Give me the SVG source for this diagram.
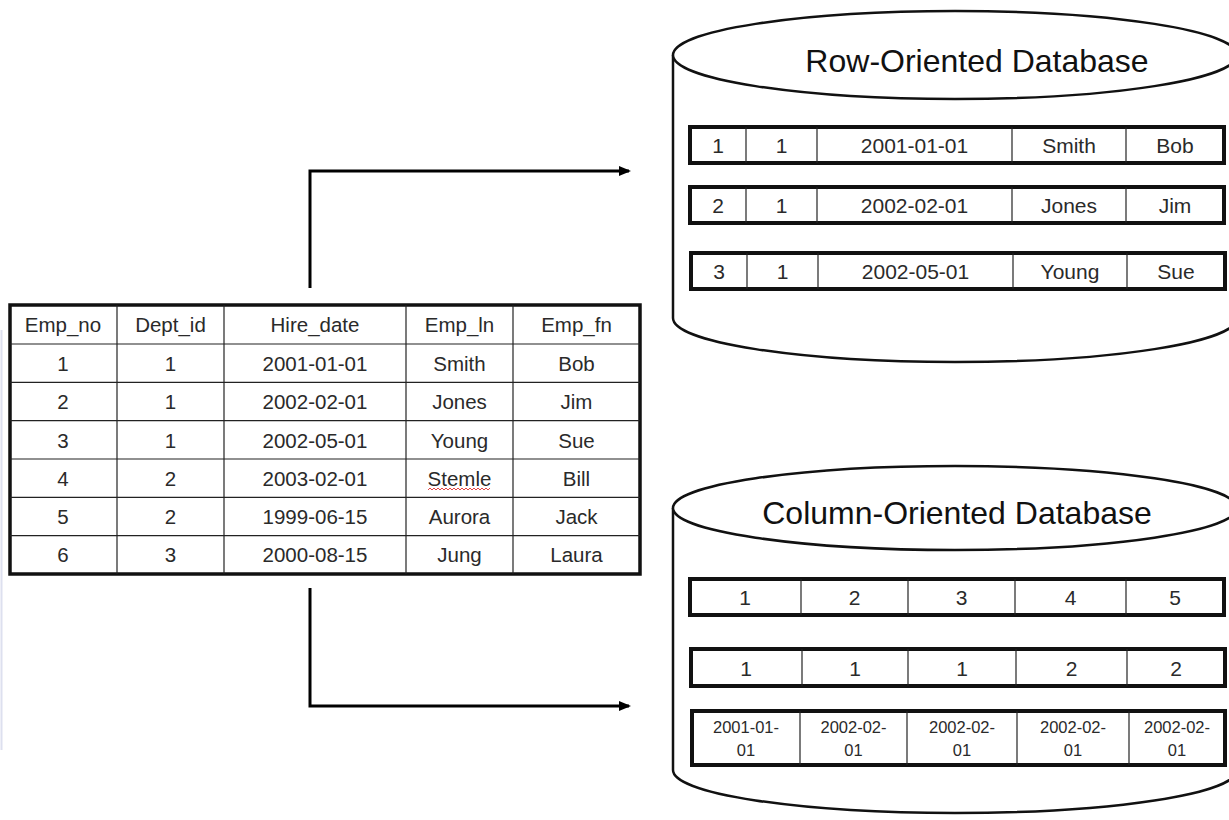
<svg xmlns="http://www.w3.org/2000/svg" width="1229" height="820" viewBox="0 0 1229 820">
<style>
text{font-family:"Liberation Sans",Arial,sans-serif;fill:#2a2a2a;text-anchor:middle}
.t{font-size:20.5px}
.d{font-size:21px}
.s{font-size:16.5px}
.h{font-size:32px;fill:#111}
.thin{stroke:#222;stroke-width:1.2;fill:none}
.box{fill:#fff;stroke:#111;stroke-width:4}
.cyl{fill:#fff;stroke:#111;stroke-width:2.5}
.conn{fill:none;stroke:#000;stroke-width:3}
</style>
<defs>
<marker id="ah" markerWidth="12" markerHeight="12" refX="10" refY="5" orient="auto" markerUnits="userSpaceOnUse">
<path d="M0,0 L12,5 L0,10 Z" fill="#000"/>
</marker>
</defs>
<rect width="1229" height="820" fill="#fff"/>
<line x1="1.5" y1="330" x2="1.5" y2="750" stroke="#dde0ef" stroke-width="2"/>

<g id="table">
<rect x="10" y="305" width="630" height="269" fill="#fff" stroke="#111" stroke-width="3.5"/>
<g class="thin">
<line x1="117" y1="305" x2="117" y2="574"/>
<line x1="224" y1="305" x2="224" y2="574"/>
<line x1="406" y1="305" x2="406" y2="574"/>
<line x1="513" y1="305" x2="513" y2="574"/>
<line x1="10" y1="344" x2="640" y2="344"/>
<line x1="10" y1="382.3" x2="640" y2="382.3"/>
<line x1="10" y1="420.7" x2="640" y2="420.7"/>
<line x1="10" y1="459" x2="640" y2="459"/>
<line x1="10" y1="497.3" x2="640" y2="497.3"/>
<line x1="10" y1="535.7" x2="640" y2="535.7"/>
</g>
<g class="t">
<text x="63" y="332">Emp_no</text><text x="170.5" y="332">Dept_id</text><text x="315" y="332">Hire_date</text><text x="459.5" y="332">Emp_ln</text><text x="576.5" y="332">Emp_fn</text>
<text x="63" y="370.5">1</text><text x="170.5" y="370.5">1</text><text x="315" y="370.5">2001-01-01</text><text x="459.5" y="370.5">Smith</text><text x="576.5" y="370.5">Bob</text>
<text x="63" y="409">2</text><text x="170.5" y="409">1</text><text x="315" y="409">2002-02-01</text><text x="459.5" y="409">Jones</text><text x="576.5" y="409">Jim</text>
<text x="63" y="447.5">3</text><text x="170.5" y="447.5">1</text><text x="315" y="447.5">2002-05-01</text><text x="459.5" y="447.5">Young</text><text x="576.5" y="447.5">Sue</text>
<text x="63" y="485.5">4</text><text x="170.5" y="485.5">2</text><text x="315" y="485.5">2003-02-01</text><text x="459.5" y="485.5">Stemle</text><text x="576.5" y="485.5">Bill</text>
<text x="63" y="524">5</text><text x="170.5" y="524">2</text><text x="315" y="524">1999-06-15</text><text x="459.5" y="524">Aurora</text><text x="576.5" y="524">Jack</text>
<text x="63" y="562">6</text><text x="170.5" y="562">3</text><text x="315" y="562">2000-08-15</text><text x="459.5" y="562">Jung</text><text x="576.5" y="562">Laura</text>
</g>
<polyline points="428,490 430,488 432,490 434,488 436,490 438,488 440,490 442,488 444,490 446,488 448,490 450,488 452,490 454,488 456,490 458,488 460,490 462,488 464,490 466,488 468,490 470,488 472,490 474,488 476,490 478,488 480,490 482,488 484,490 486,488 488,490 490,488" fill="none" stroke="#e03030" stroke-width="0.9"/>
</g>

<g id="row-db">
<path class="cyl" d="M673,55 L673,318 A282,44 0 0 0 1237,318 L1237,55"/>
<ellipse class="cyl" cx="955" cy="55" rx="282" ry="44"/>
<text class="h" x="977" y="72">Row-Oriented Database</text>
<rect class="box" x="690" y="127" width="534" height="36"/>
<rect class="box" x="690" y="187" width="534" height="36"/>
<rect class="box" x="691" y="253" width="534" height="36"/>
<g class="thin">
<line x1="746" y1="127" x2="746" y2="163"/><line x1="817" y1="127" x2="817" y2="163"/><line x1="1012" y1="127" x2="1012" y2="163"/><line x1="1126" y1="127" x2="1126" y2="163"/>
<line x1="746" y1="187" x2="746" y2="223"/><line x1="817" y1="187" x2="817" y2="223"/><line x1="1012" y1="187" x2="1012" y2="223"/><line x1="1126" y1="187" x2="1126" y2="223"/>
<line x1="747" y1="253" x2="747" y2="289"/><line x1="818" y1="253" x2="818" y2="289"/><line x1="1013" y1="253" x2="1013" y2="289"/><line x1="1127" y1="253" x2="1127" y2="289"/>
</g>
<g class="d">
<text x="718" y="152.5">1</text><text x="781.5" y="152.5">1</text><text x="914.5" y="152.5">2001-01-01</text><text x="1069" y="152.5">Smith</text><text x="1175" y="152.5">Bob</text>
<text x="718" y="212.5">2</text><text x="781.5" y="212.5">1</text><text x="914.5" y="212.5">2002-02-01</text><text x="1069" y="212.5">Jones</text><text x="1175" y="212.5">Jim</text>
<text x="719" y="278.5">3</text><text x="782.5" y="278.5">1</text><text x="915.5" y="278.5">2002-05-01</text><text x="1070" y="278.5">Young</text><text x="1176" y="278.5">Sue</text>
</g>
</g>

<g id="column-db">
<path class="cyl" d="M673,508 L673,770 A282,43 0 0 0 1237,770 L1237,508"/>
<ellipse class="cyl" cx="955" cy="508" rx="282" ry="42"/>
<text class="h" x="957" y="524">Column-Oriented Database</text>
<rect class="box" x="690" y="579" width="534" height="36"/>
<rect class="box" x="691" y="649" width="534" height="37"/>
<rect class="box" x="692" y="711" width="533" height="54"/>
<g class="thin">
<line x1="801" y1="579" x2="801" y2="615"/><line x1="908" y1="579" x2="908" y2="615"/><line x1="1015" y1="579" x2="1015" y2="615"/><line x1="1126" y1="579" x2="1126" y2="615"/>
<line x1="802" y1="649" x2="802" y2="686"/><line x1="908" y1="649" x2="908" y2="686"/><line x1="1016" y1="649" x2="1016" y2="686"/><line x1="1127" y1="649" x2="1127" y2="686"/>
<line x1="800" y1="711" x2="800" y2="765"/><line x1="907" y1="711" x2="907" y2="765"/><line x1="1017" y1="711" x2="1017" y2="765"/><line x1="1129" y1="711" x2="1129" y2="765"/>
</g>
<g class="d">
<text x="745" y="604.5">1</text><text x="854.5" y="604.5">2</text><text x="961.5" y="604.5">3</text><text x="1070.5" y="604.5">4</text><text x="1175" y="604.5">5</text>
<text x="746" y="675.5">1</text><text x="855" y="675.5">1</text><text x="962" y="675.5">1</text><text x="1071.5" y="675.5">2</text><text x="1176" y="675.5">2</text>
</g>
<g class="s">
<text x="746" y="733">2001-01-</text><text x="746" y="756">01</text>
<text x="853.5" y="733">2002-02-</text><text x="853.5" y="756">01</text>
<text x="962" y="733">2002-02-</text><text x="962" y="756">01</text>
<text x="1073" y="733">2002-02-</text><text x="1073" y="756">01</text>
<text x="1177" y="733">2002-02-</text><text x="1177" y="756">01</text>
</g>
</g>

<g id="connectors">
<polyline class="conn" points="310,288 310,171 629,171" marker-end="url(#ah)"/>
<polyline class="conn" points="310,588 310,706 629,706" marker-end="url(#ah)"/>
</g>
</svg>
